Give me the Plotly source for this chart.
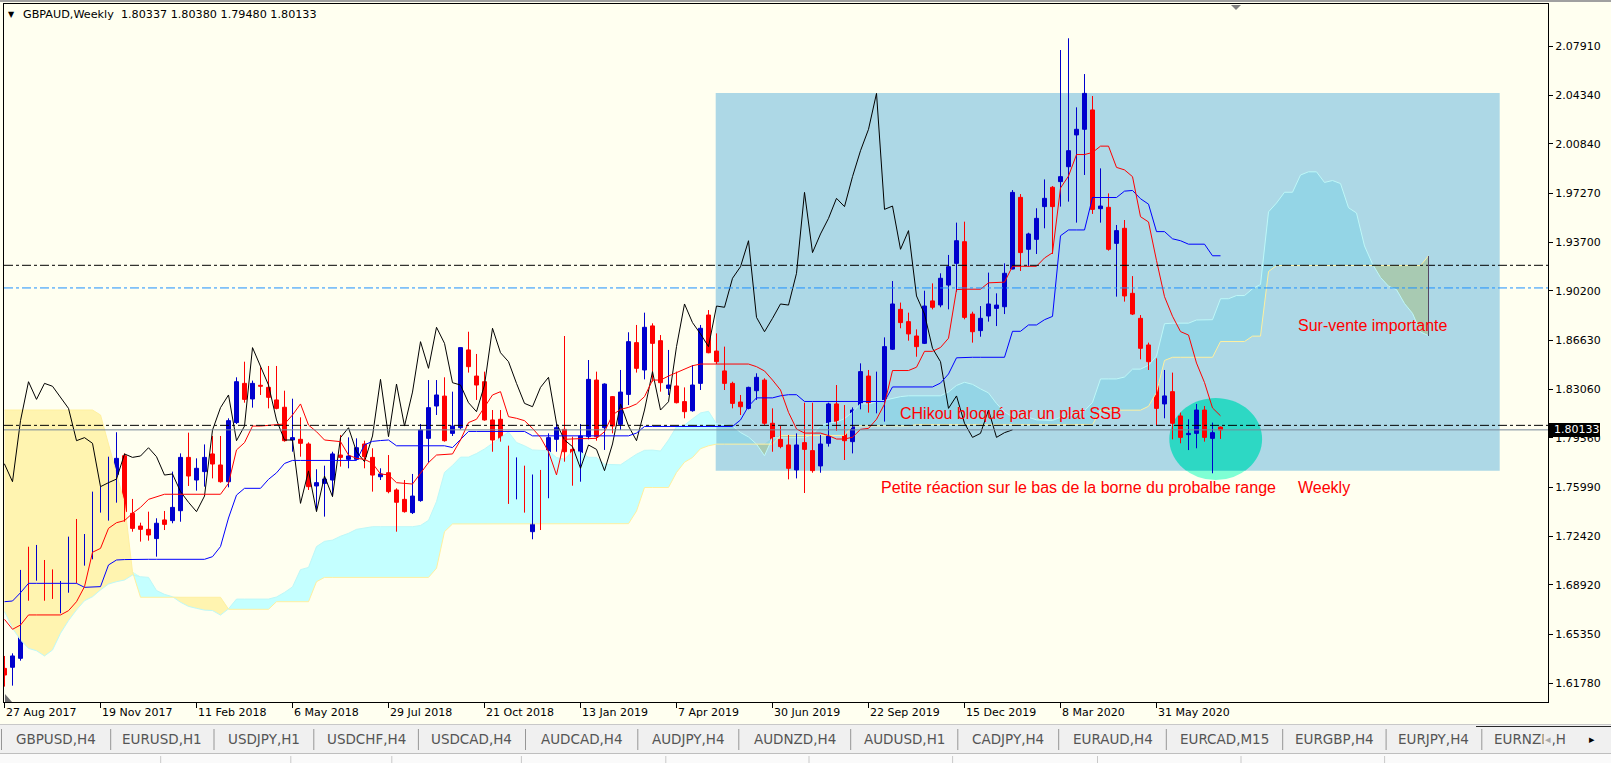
import math
import plotly.graph_objects as go

# ---------------- data ----------------
x_label_bars = [0, 12, 24, 36, 48, 60, 72, 84, 96, 108, 120, 132, 144]
x_labels = ["27 Aug 2017", "19 Nov 2017", "11 Feb 2018", "6 May 2018", "29 Jul 2018",
            "21 Oct 2018", "13 Jan 2019", "7 Apr 2019", "30 Jun 2019", "22 Sep 2019",
            "15 Dec 2019", "8 Mar 2020", "31 May 2020"]

y_tick_values = [2.0791, 2.0434, 2.0084, 1.9727, 1.9370, 1.9020, 1.8663, 1.8306,
                 1.7956, 1.7599, 1.7242, 1.6892, 1.6535, 1.6178]
y_tick_text = ["2.07910", "2.04340", "2.00840", "1.97270", "1.93700", "1.90200", "1.86630",
               "1.83060", "1.79560", "1.75990", "1.72420", "1.68920", "1.65350", "1.61780"]

opens = [1.6286,1.6294,1.6359,1.6955,1.6955,1.7064,1.6849,1.6844,1.6849,1.7124,
         1.7081,1.7204,1.7462,1.7486,1.7691,1.7826,1.7409,1.7317,1.7293,1.7226,
         1.7361,1.7356,1.7428,1.7814,1.7650,1.7711,1.7839,1.7759,1.7638,1.8066,
         1.8350,1.8237,1.8336,1.8321,1.8230,1.8177,1.7940,1.7945,1.7911,1.7607,
         1.7626,1.7650,1.7831,1.7800,1.7800,1.7911,1.7814,1.7674,1.7703,1.7578,
         1.7510,1.7414,1.7501,1.7952,1.8186,1.8258,1.7988,1.8029,1.8592,1.8403,
         1.8362,1.8085,1.8090,1.7899,1.7549,1.7740,1.7276,1.7662,1.7522,1.7945,
         1.8017,1.7872,1.7819,1.7964,1.8374,1.8029,1.8254,1.8053,1.8270,1.8645,
         1.8447,1.8766,1.8659,1.8314,1.8331,1.8218,1.8152,1.8350,1.8845,1.8584,
         1.8440,1.8350,1.8215,1.8169,1.8297,1.8374,1.8061,1.7945,1.7904,1.7723,
         1.7921,1.7863,1.7752,1.7916,1.8201,1.8056,1.7928,1.8169,1.8403,1.8176,
         1.8210,1.8597,1.8886,1.8797,1.8693,1.8640,1.8947,1.8918,1.9062,1.9219,
         1.9376,1.8852,1.8732,1.8838,1.8893,1.8905,1.9178,1.9697,1.9321,1.9393,
         1.9630,1.9770,1.9811,1.9919,2.0149,2.0190,2.0330,1.9615,1.9625,1.9364,
         1.9473,1.9002,1.8821,1.8628,1.8500,1.8201,1.8290,1.8114,1.7979,1.7988,
         1.8157,1.7952,1.80337]
highs = [1.6376,1.6395,1.6999,1.7167,1.7180,1.7071,1.7003,1.6919,1.7240,1.7368,
         1.7259,1.7566,1.7602,1.7819,1.7996,1.7843,1.7513,1.7341,1.7421,1.7373,
         1.7426,1.7711,1.7843,1.7993,1.7807,1.7908,1.7969,1.7969,1.8097,1.8394,
         1.8507,1.8370,1.8466,1.8476,1.8476,1.8297,1.8239,1.8104,1.7923,1.7728,
         1.7754,1.7855,1.7976,1.7959,1.7952,1.7935,1.7880,1.7735,1.7831,1.7590,
         1.7650,1.7694,1.8056,1.8374,1.8374,1.8394,1.8290,1.8609,1.8724,1.8563,
         1.8435,1.8157,1.8157,1.7899,1.7814,1.7754,1.7690,1.7723,1.7988,1.8061,
         1.8693,1.7964,1.8056,1.8519,1.8435,1.8350,1.8258,1.8447,1.8720,1.8773,
         1.8862,1.8785,1.8700,1.8592,1.8435,1.8321,1.8483,1.8773,1.8881,1.8712,
         1.8616,1.8362,1.8266,1.8326,1.8423,1.8387,1.8169,1.8041,1.7976,1.7988,
         1.8210,1.8210,1.7976,1.8210,1.8338,1.8193,1.8176,1.8495,1.8447,1.8435,
         1.8683,1.9091,1.8935,1.8862,1.8741,1.9021,1.9074,1.9147,1.9280,1.9514,
         1.9521,1.8869,1.8910,1.9152,1.9002,1.9219,1.9750,1.9721,1.9441,1.9618,
         1.9827,1.9779,2.0764,2.0849,2.0349,2.0590,2.0431,1.9907,1.9726,1.9497,
         1.9533,1.9127,1.8845,1.8645,1.8531,1.8447,1.8428,1.8138,1.8090,1.8201,
         1.8186,1.8066,1.80380]
lows = [1.6154,1.6161,1.6342,1.6776,1.6921,1.6776,1.6789,1.6685,1.6834,1.6902,
        1.7030,1.7076,1.7414,1.7356,1.7486,1.7348,1.7276,1.7204,1.7211,1.7095,
        1.7288,1.7337,1.7348,1.7607,1.7573,1.7602,1.7662,1.7631,1.7597,1.8056,
        1.8210,1.8174,1.8266,1.8169,1.8162,1.7928,1.7855,1.7819,1.7578,1.7428,
        1.7385,1.7530,1.7747,1.7735,1.7795,1.7735,1.7566,1.7650,1.7554,1.7276,
        1.7414,1.7404,1.7493,1.7776,1.8121,1.7928,1.7969,1.8017,1.8428,1.8230,
        1.8080,1.7855,1.7928,1.7477,1.7510,1.7414,1.7221,1.7288,1.7518,1.7855,
        1.7783,1.7609,1.7638,1.7945,1.7935,1.7868,1.7988,1.8012,1.8193,1.8428,
        1.8379,1.8362,1.8290,1.8266,1.8205,1.8097,1.8145,1.8302,1.8568,1.8490,
        1.8302,1.8169,1.8121,1.8162,1.8230,1.8049,1.7855,1.7880,1.7655,1.7662,
        1.7556,1.7703,1.7703,1.7892,1.8007,1.7795,1.7843,1.8162,1.8138,1.8133,
        1.8073,1.8592,1.8749,1.8659,1.8543,1.8635,1.8886,1.8901,1.8886,1.9014,
        1.8814,1.8645,1.8688,1.8797,1.8765,1.8852,1.9176,1.9164,1.9195,1.9287,
        1.9473,1.9287,1.9630,1.9666,1.9514,1.9859,1.9577,1.9514,1.9311,1.8978,
        1.8942,1.8845,1.8524,1.8447,1.8048,1.8097,1.7945,1.7916,1.7867,1.7880,
        1.7928,1.7699,1.79480]
closes = [1.6238,1.6376,1.6970,1.6943,1.7100,1.6786,1.6825,1.6863,1.7093,1.7081,
          1.7216,1.7457,1.7513,1.7711,1.7807,1.7421,1.7300,1.7293,1.7252,1.7337,
          1.7329,1.7452,1.7814,1.7679,1.7735,1.7814,1.7766,1.7638,1.8080,1.8362,
          1.8234,1.8350,1.8329,1.8249,1.8169,1.7935,1.7957,1.7916,1.7602,1.7631,
          1.7657,1.7839,1.7814,1.7824,1.7884,1.7819,1.7686,1.7694,1.7566,1.7489,
          1.7421,1.7534,1.8012,1.8174,1.8266,1.7935,1.8041,1.8609,1.8471,1.8338,
          1.8085,1.7940,1.7940,1.7481,1.7716,1.7421,1.7679,1.7530,1.7957,1.8029,
          1.7855,1.7783,1.7969,1.8379,1.7964,1.8345,1.8041,1.8287,1.8652,1.8459,
          1.8756,1.8640,1.8355,1.8338,1.8210,1.8145,1.8338,1.8749,1.8572,1.8507,
          1.8350,1.8205,1.8181,1.8321,1.8394,1.8061,1.7940,1.7892,1.7735,1.7904,
          1.7872,1.7718,1.7911,1.8201,1.8041,1.7935,1.8157,1.8435,1.8157,1.8217,
          1.8616,1.8925,1.8790,1.8708,1.8616,1.8910,1.8901,1.9111,1.9195,1.9383,
          1.8828,1.8724,1.8821,1.8925,1.8917,1.9147,1.9733,1.9297,1.9432,1.9545,
          1.9690,1.9630,1.9847,2.0035,2.0190,2.0450,1.9610,1.9634,1.9321,1.9456,
          1.8983,1.8852,1.8604,1.8507,1.8169,1.8259,1.8061,1.7959,1.7988,1.8157,
          1.7959,1.7993,1.80133]

tenkan = [1.6641,1.6569,1.6600,1.6673,1.6673,1.6673,1.6673,1.6673,1.6704,1.6769,
          1.6878,1.7127,1.7155,1.7300,1.7341,1.7356,1.7409,1.7452,1.7510,1.7530,
          1.7547,1.7547,1.7547,1.7547,1.7547,1.7547,1.7547,1.7547,1.7626,1.7868,
          1.7921,1.8041,1.8041,1.8045,1.8050,1.8056,1.8121,1.8201,1.8048,1.8000,
          1.7940,1.7934,1.7928,1.7831,1.7807,1.7800,1.7771,1.7694,1.7687,1.7631,
          1.7626,1.7621,1.7699,1.7776,1.7831,1.7835,1.7839,1.7940,1.8066,1.8090,
          1.8181,1.8266,1.8290,1.8109,1.8097,1.8080,1.8024,1.7959,1.7855,1.7687,
          1.7945,1.7950,1.7950,1.7950,1.7952,1.8000,1.8121,1.8162,1.8176,1.8201,
          1.8254,1.8374,1.8374,1.8403,1.8428,1.8452,1.8478,1.8490,1.8490,1.8490,
          1.8490,1.8490,1.8490,1.8490,1.8471,1.8440,1.8374,1.8302,1.8140,1.8020,
          1.7990,1.7990,1.7990,1.7972,1.7947,1.7947,1.7960,1.8017,1.8024,1.8090,
          1.8200,1.8443,1.8443,1.8443,1.8467,1.8582,1.8582,1.8610,1.8677,1.9029,
          1.9032,1.9032,1.9032,1.9078,1.9083,1.9083,1.9198,1.9198,1.9198,1.9198,
          1.9258,1.9296,1.9765,1.9851,2.0007,2.0007,2.0022,2.0068,2.0068,1.9914,
          1.9896,1.9847,1.9557,1.9519,1.9240,1.8978,1.8836,1.8725,1.8700,1.8497,
          1.8356,1.8172,1.8115]
kijun = [1.6769,1.6774,1.6834,1.6902,1.6902,1.6902,1.6902,1.6902,1.6902,1.6902,
         1.6873,1.6875,1.6878,1.7035,1.7071,1.7074,1.7076,1.7076,1.7076,1.7076,
         1.7076,1.7076,1.7076,1.7076,1.7076,1.7076,1.7095,1.7168,1.7375,1.7541,
         1.7590,1.7590,1.7590,1.7655,1.7702,1.7770,1.7792,1.7792,1.7792,1.7792,
         1.7792,1.7792,1.7792,1.7792,1.7792,1.7905,1.7930,1.7936,1.7940,1.7898,
         1.7898,1.7898,1.7898,1.7898,1.7898,1.7898,1.7885,1.7942,1.8002,1.8002,
         1.8002,1.8002,1.8002,1.8002,1.8002,1.8002,1.7970,1.7970,1.7970,1.7970,
         1.7970,1.7970,1.7970,1.7970,1.7970,1.7970,1.7970,1.7970,1.7970,1.7990,
         1.8038,1.8038,1.8038,1.8038,1.8038,1.8038,1.8038,1.8038,1.8038,1.8038,
         1.8038,1.8038,1.8085,1.8185,1.8245,1.8245,1.8245,1.8260,1.8268,1.8268,
         1.8219,1.8219,1.8219,1.8219,1.8219,1.8219,1.8219,1.8219,1.8219,1.8219,
         1.8219,1.8324,1.8324,1.8324,1.8324,1.8324,1.8324,1.8352,1.8418,1.8535,
         1.8539,1.8539,1.8539,1.8539,1.8539,1.8539,1.8727,1.8727,1.8773,1.8773,
         1.8811,1.8835,1.9419,1.9461,1.9461,1.9461,1.9696,1.9696,1.9696,1.9696,
         1.9742,1.9747,1.9687,1.9648,1.9449,1.9449,1.9397,1.9383,1.9358,1.9358,
         1.9358,1.9274,1.9274]
span_a = [1.6697,1.6576,1.6492,1.6431,1.6414,1.6376,1.6419,1.6540,1.6632,1.6709,
          1.6776,1.6805,1.6854,1.6897,1.6914,1.6926,1.6962,1.6950,1.6945,1.6850,
          1.6822,1.6805,1.6765,1.6735,1.6721,1.6708,1.6705,1.6672,1.6717,1.6788,
          1.6788,1.6788,1.6788,1.6788,1.6803,1.6836,1.6876,1.7001,1.7017,1.7168,
          1.7206,1.7215,1.7243,1.7264,1.7293,1.7303,1.7312,1.7312,1.7312,1.7312,
          1.7312,1.7312,1.7321,1.7358,1.7494,1.7705,1.7756,1.7816,1.7816,1.7842,
          1.7875,1.7914,1.7958,1.7998,1.7922,1.7898,1.7868,1.7865,1.7862,1.7813,
          1.7801,1.7858,1.7852,1.7815,1.7814,1.7764,1.7762,1.7760,1.7799,1.7837,
          1.7865,1.7867,1.7860,1.7940,1.8036,1.8048,1.8093,1.8136,1.8148,1.8057,
          1.8051,1.8043,1.7994,1.7962,1.7910,1.7826,1.7955,1.7957,1.7957,1.7957,
          1.7957,1.7982,1.8043,1.8063,1.8070,1.8095,1.8142,1.8202,1.8202,1.8216,
          1.8229,1.8241,1.8254,1.8260,1.8260,1.8260,1.8260,1.8260,1.8288,1.8335,
          1.8358,1.8343,1.8310,1.8281,1.8204,1.8144,1.8106,1.8104,1.8104,1.8086,
          1.8082,1.8082,1.8104,1.8118,1.8122,1.8152,1.8212,1.8382,1.8382,1.8382,
          1.8396,1.8453,1.8453,1.8481,1.8548,1.8782,1.8786,1.8786,1.8786,1.8809,
          1.8811,1.8811,1.8963,1.8963,1.8986,1.8986,1.9035,1.9066,1.9592,1.9656,
          1.9734,1.9734,1.9859,1.9882,1.9882,1.9805,1.9819,1.9797,1.9622,1.9584,
          1.9345,1.9214,1.9117,1.9054,1.9029,1.8928,1.8857,1.8723,1.8695]
span_b = [1.8157,1.8157,1.8157,1.8157,1.8157,1.8157,1.8157,1.8157,1.8157,1.8157,
          1.8157,1.8157,1.8121,1.7916,1.7699,1.7481,1.6986,1.6801,1.6801,1.6801,
          1.6801,1.6801,1.6801,1.6801,1.6801,1.6801,1.6801,1.6801,1.6714,1.6714,
          1.6714,1.6714,1.6714,1.6714,1.6769,1.6769,1.6769,1.6769,1.6769,1.6914,
          1.6945,1.6945,1.6945,1.6945,1.6945,1.6945,1.6945,1.6945,1.6945,1.6945,
          1.6945,1.6945,1.6945,1.6945,1.7011,1.7276,1.7332,1.7332,1.7332,1.7332,
          1.7332,1.7332,1.7332,1.7332,1.7332,1.7332,1.7332,1.7332,1.7332,1.7332,
          1.7332,1.7332,1.7332,1.7332,1.7332,1.7332,1.7332,1.7331,1.7334,1.7425,
          1.7596,1.7596,1.7596,1.7596,1.7705,1.7779,1.7813,1.7877,1.7898,1.7910,
          1.7910,1.7910,1.7910,1.7910,1.7910,1.7910,1.7910,1.7973,1.7973,1.7973,
          1.7973,1.7973,1.7973,1.7973,1.7973,1.7973,1.8042,1.8042,1.8042,1.8042,
          1.8042,1.8042,1.8042,1.8042,1.8051,1.8051,1.8051,1.8051,1.8051,1.8051,
          1.8051,1.8051,1.8051,1.8051,1.8051,1.8051,1.8051,1.8051,1.8051,1.8051,
          1.8051,1.8051,1.8051,1.8051,1.8051,1.8051,1.8051,1.8156,1.8156,1.8156,
          1.8156,1.8156,1.8156,1.8184,1.8284,1.8516,1.8539,1.8539,1.8539,1.8539,
          1.8539,1.8539,1.8653,1.8653,1.8653,1.8653,1.8692,1.8692,1.9160,1.9203,
          1.9203,1.9203,1.9203,1.9203,1.9203,1.9203,1.9203,1.9203,1.9203,1.9203,
          1.9203,1.9203,1.9203,1.9203,1.9203,1.9203,1.9203,1.9203,1.9274]

level_upper = 1.9205
level_blue = 1.9041
level_lower = 1.8046
bid_price = 1.80133
header = "GBPAUD,Weekly\u00a0\u00a01.80337 1.80380 1.79480 1.80133"
tabs = ["GBPUSD,H4", "EURUSD,H1", "USDJPY,H1", "USDCHF,H4", "USDCAD,H4", "AUDCAD,H4",
        "AUDJPY,H4", "AUDNZD,H4", "AUDUSD,H1", "CADJPY,H4", "EURAUD,H4", "EURCAD,M15",
        "EURGBP,H4", "EURJPY,H4"]

# ---------------- styling / geometry ----------------
W, H = 1611, 763
ML, MR, MT, MB = 4, 63, 4, 61
PW, PH = W - ML - MR, H - MT - MB
BAR_PX = 8.0
PX_PER_UNIT = 1380.9
X0 = -0.0625
X1 = X0 + PW / BAR_PX
Y0 = 1.60426
Y1 = Y0 + PH / PX_PER_UNIT


def px(x):
    return (x - ML) / PW


def py(y):
    return (H - MB - y) / PH


def rgb(c):
    return "rgb(%d,%d,%d)" % c


BG = (255, 255, 240)
RECT_C = (173, 216, 230)
CYAN_C = (196, 255, 255)
YEL_C = (255, 244, 176)
CYAN_IN = (148, 213, 230)
YEL_IN = (168, 202, 178)
AQUA = (127, 255, 212)
AQUA_IN = (45, 216, 196)
UP = "rgb(0,0,205)"
DN = "rgb(255,0,0)"

RECT_X0, RECT_X1, RECT_Y0, RECT_Y1 = 88.9, 186.9, 1.7718, 2.0453
ELL_CX, ELL_CY, ELL_RX, ELL_RY = 151.4, 1.7947, 5.8, 0.0297
SPLIT = 89

fig = go.Figure()

# ---------------- Ichimoku cloud ----------------
cx = list(range(len(span_a)))
upper = [max(a, b) for a, b in zip(span_a, span_b)]


def cloud(sl, cyan, yel):
    xs = cx[sl]
    fig.add_trace(go.Scatter(x=xs, y=span_a[sl], mode="lines", line=dict(width=0),
                             hoverinfo="skip", showlegend=False))
    fig.add_trace(go.Scatter(x=xs, y=upper[sl], mode="lines", line=dict(width=0),
                             fill="tonexty", fillcolor=rgb(yel), hoverinfo="skip",
                             showlegend=False))
    fig.add_trace(go.Scatter(x=xs, y=span_b[sl], mode="lines", line=dict(width=0),
                             hoverinfo="skip", showlegend=False))
    fig.add_trace(go.Scatter(x=xs, y=upper[sl], mode="lines", line=dict(width=0),
                             fill="tonexty", fillcolor=rgb(cyan), hoverinfo="skip",
                             showlegend=False))


cloud(slice(0, SPLIT + 1), CYAN_C, YEL_C)
cloud(slice(SPLIT, len(cx)), CYAN_IN, YEL_IN)

fig.add_trace(go.Scatter(x=cx, y=span_a, mode="lines", line=dict(color="rgb(190,248,248)", width=1),
                         hoverinfo="skip", showlegend=False))
fig.add_trace(go.Scatter(x=cx, y=span_b, mode="lines", line=dict(color="rgb(255,240,160)", width=1),
                         hoverinfo="skip", showlegend=False))

# ---------------- candles ----------------
idx = list(range(len(opens)))
for bull, col in ((True, UP), (False, DN)):
    sel = [i for i in idx if (closes[i] >= opens[i]) == bull]
    wx, wy = [], []
    for i in sel:
        wx += [i, i, None]
        wy += [lows[i], highs[i], None]
    fig.add_trace(go.Scatter(x=wx, y=wy, mode="lines", line=dict(color=col, width=1),
                             hoverinfo="skip", showlegend=False))
    fig.add_trace(go.Bar(x=sel, y=[abs(closes[i] - opens[i]) for i in sel],
                         base=[min(opens[i], closes[i]) for i in sel], width=0.5,
                         marker=dict(color=col, line=dict(color=col, width=1)),
                         hoverinfo="skip", showlegend=False))

# ---------------- Ichimoku lines ----------------
fig.add_trace(go.Scatter(x=[i - 26 for i in idx], y=closes, mode="lines",
                         line=dict(color="black", width=1), hoverinfo="skip", showlegend=False))
fig.add_trace(go.Scatter(x=idx, y=kijun, mode="lines", line=dict(color="rgb(0,0,255)", width=1),
                         hoverinfo="skip", showlegend=False))
fig.add_trace(go.Scatter(x=idx, y=tenkan, mode="lines", line=dict(color="rgb(255,0,0)", width=1),
                         hoverinfo="skip", showlegend=False))

# ---------------- shapes ----------------
shapes = []
shapes.append(dict(type="circle", xref="x", yref="y", layer="below",
                   x0=ELL_CX - ELL_RX, x1=ELL_CX + ELL_RX, y0=ELL_CY - ELL_RY, y1=ELL_CY + ELL_RY,
                   fillcolor=rgb(AQUA), line=dict(width=0)))
shapes.append(dict(type="rect", xref="x", yref="y", layer="below",
                   x0=RECT_X0, x1=RECT_X1, y0=RECT_Y0, y1=RECT_Y1,
                   fillcolor=rgb(RECT_C), line=dict(width=0)))
pts = []
for k in range(73):
    t = 2 * math.pi * k / 72
    ex = ELL_CX + ELL_RX * math.cos(t)
    ey = max(ELL_CY + ELL_RY * math.sin(t), RECT_Y0)
    pts.append("%s%.4f,%.5f" % ("M" if k == 0 else "L", ex, ey))
shapes.append(dict(type="path", xref="x", yref="y", layer="below", path=" ".join(pts) + " Z",
                   fillcolor=rgb(AQUA_IN), line=dict(width=0)))

DASHDOT = "9px,3px,3px,3px"
for lvl, col, dash in ((level_upper, "black", DASHDOT), (level_blue, "rgb(30,144,255)", DASHDOT),
                       (level_lower, "black", DASHDOT), (bid_price, "rgb(119,136,153)", "solid")):
    shapes.append(dict(type="line", xref="paper", yref="y", x0=0, x1=1, y0=lvl, y1=lvl,
                       layer="above", line=dict(color=col, width=1, dash=dash)))
shapes.append(dict(type="line", xref="x", yref="y", x0=178, x1=178, y0=1.8693, y1=1.9272,
                   layer="above", line=dict(color="rgb(85,70,100)", width=1)))

shapes.append(dict(type="rect", xref="paper", yref="paper", x0=px(1549), x1=px(1600),
                   y0=py(437), y1=py(423), fillcolor="black", line=dict(width=0), layer="above"))
shapes.append(dict(type="path", xref="paper", yref="paper", layer="above",
                   path="M%f,%f L%f,%f L%f,%f Z" % (px(1231), py(5), px(1241), py(5), px(1236), py(10)),
                   fillcolor="rgb(128,128,128)", line=dict(width=0)))
shapes.append(dict(type="path", xref="paper", yref="paper", layer="above",
                   path="M%f,%f L%f,%f L%f,%f Z" % (px(5), py(694), px(5), py(702), px(12), py(702)),
                   fillcolor="rgb(110,110,110)", line=dict(width=0)))
shapes.append(dict(type="line", xref="paper", yref="paper", x0=px(0), x1=px(W), y0=py(1), y1=py(1),
                   line=dict(color="rgb(160,160,160)", width=2), layer="above"))

# tab bar
shapes.append(dict(type="rect", xref="paper", yref="paper", x0=px(0), x1=px(W), y0=py(763), y1=py(724),
                   fillcolor="rgb(240,240,240)", line=dict(width=0), layer="above"))
shapes.append(dict(type="line", xref="paper", yref="paper", x0=px(0), x1=px(W), y0=py(724.5), y1=py(724.5),
                   line=dict(color="rgb(200,200,200)", width=1), layer="above"))
shapes.append(dict(type="line", xref="paper", yref="paper", x0=px(1476), x1=px(W), y0=py(726.5), y1=py(726.5),
                   line=dict(color="rgb(40,40,40)", width=1), layer="above"))
shapes.append(dict(type="rect", xref="paper", yref="paper", x0=px(0), x1=px(W), y0=py(763), y1=py(753),
                   fillcolor="rgb(250,250,250)", line=dict(width=0), layer="above"))
shapes.append(dict(type="line", xref="paper", yref="paper", x0=px(0), x1=px(W), y0=py(753.5), y1=py(753.5),
                   line=dict(color="rgb(190,190,190)", width=1), layer="above"))
seps = [1.5, 110.7, 214, 313.8, 418.4, 525.5, 637.8, 738.8, 850.7, 957.8, 1058.7,
        1166.3, 1282.7, 1386.1, 1481.8]
for s in seps:
    shapes.append(dict(type="line", xref="paper", yref="paper", x0=px(s), x1=px(s), y0=py(729), y1=py(750),
                       line=dict(color="rgb(150,150,150)", width=1), layer="above"))
for s in [160.7, 290.8, 391.8, 521.4, 665.8, 809, 952.6, 1097.5, 1241, 1384.6]:
    shapes.append(dict(type="line", xref="paper", yref="paper", x0=px(s), x1=px(s), y0=py(756), y1=py(763),
                       line=dict(color="rgb(200,200,200)", width=1), layer="above"))

# ---------------- annotations ----------------
ann = []
AX_FONT = dict(family="DejaVu Sans", size=11, color="black")
for b, t in zip(x_label_bars, x_labels):
    ann.append(dict(x=b, xref="x", y=py(712), yref="paper", text=t, showarrow=False,
                    xanchor="left", yanchor="middle", xshift=-1, font=AX_FONT))
ann.append(dict(x=px(1552), xref="paper", y=bid_price, yref="y", text="1.80133", showarrow=False,
                xanchor="left", yanchor="middle", font=dict(family="DejaVu Sans", size=11, color="white")))
ann.append(dict(x=px(6), xref="paper", y=py(14.5), yref="paper", text="\u25bc", showarrow=False,
                xanchor="left", yanchor="middle", font=dict(family="DejaVu Sans", size=8, color="black")))
ann.append(dict(x=px(21), xref="paper", y=py(15), yref="paper", text=header, showarrow=False,
                xanchor="left", yanchor="middle", font=dict(family="DejaVu Sans", size=11.2, color="black")))
RED_FONT = dict(family="Liberation Sans", size=16, color="rgb(255,0,0)")
ann.append(dict(x=px(898), xref="paper", y=py(413), yref="paper", text="CHikou bloqué par un plat SSB",
                showarrow=False, xanchor="left", yanchor="middle", font=RED_FONT))
ann.append(dict(x=px(1296), xref="paper", y=py(325), yref="paper", text="Sur-vente importante",
                showarrow=False, xanchor="left", yanchor="middle", font=RED_FONT))
ann.append(dict(x=px(879), xref="paper", y=py(488), yref="paper",
                text="Petite réaction sur le bas de la borne du probalbe range",
                showarrow=False, xanchor="left", yanchor="middle", font=RED_FONT))
ann.append(dict(x=px(1296), xref="paper", y=py(488), yref="paper", text="Weekly",
                showarrow=False, xanchor="left", yanchor="middle", font=RED_FONT))
TAB_FONT = dict(family="DejaVu Sans", size=13.5, color="rgb(85,85,85)")
for k, t in enumerate(tabs):
    ann.append(dict(x=px((seps[k] + seps[k + 1]) / 2), xref="paper", y=py(739), yref="paper", text=t,
                    showarrow=False, xanchor="center", yanchor="middle", font=TAB_FONT))
ann.append(dict(x=px(1492), xref="paper", y=py(739), yref="paper", text="EURNZD,H", showarrow=False,
                xanchor="left", yanchor="middle", font=TAB_FONT))
ann.append(dict(x=px(1543), xref="paper", y=py(739), yref="paper", text="\u25c2", showarrow=False,
                xanchor="left", yanchor="middle", font=dict(family="DejaVu Sans", size=11, color="rgb(170,170,170)"),
                bgcolor="rgb(240,240,240)"))
ann.append(dict(x=px(1587), xref="paper", y=py(739), yref="paper", text="\u25b8", showarrow=False,
                xanchor="left", yanchor="middle", font=dict(family="DejaVu Sans", size=11, color="black")))

fig.update_layout(
    width=W, height=H, margin=dict(l=ML, r=MR, t=MT, b=MB, pad=0),
    paper_bgcolor=rgb(BG), plot_bgcolor=rgb(BG), barmode="overlay", showlegend=False,
    shapes=shapes, annotations=ann, hovermode=False,
    xaxis=dict(range=[X0, X1], showgrid=False, zeroline=False, showline=True, mirror=True,
               linecolor="black", linewidth=1, ticks="outside", ticklen=5, tickcolor="black",
               tickvals=x_label_bars, showticklabels=False, fixedrange=True),
    yaxis=dict(range=[Y0, Y1], side="right", showgrid=False, zeroline=False, showline=True,
               mirror=True, linecolor="black", linewidth=1, ticks="outside", ticklen=4,
               tickcolor="black", tickvals=y_tick_values, ticktext=y_tick_text,
               tickfont=AX_FONT, fixedrange=True),
)

fig.write_html("out.html", config={"displayModeBar": False},
               post_script="document.body.style.margin='0px';document.body.style.overflow='hidden';")
